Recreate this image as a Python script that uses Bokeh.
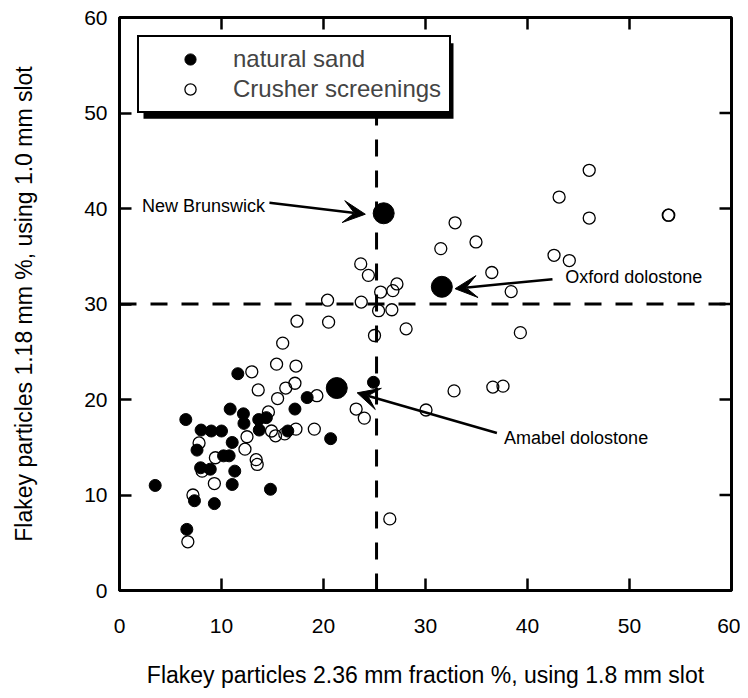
from bokeh.plotting import figure
from bokeh.models import (Range1d, FixedTicker, Legend, LegendItem,
                          Label, Arrow, VeeHead, Span, BoxAnnotation)
from bokeh.embed import file_html
from bokeh.resources import INLINE

FONT = "Liberation Sans"

# ---- data ----
sand_x = [3.5, 6.5, 6.6, 7.35, 7.6, 7.95, 8.0, 8.9, 9.0, 9.3, 10.0, 10.2, 10.75, 10.85,
          11.05, 11.05, 11.3, 11.6, 12.15, 12.2, 13.65, 14.4, 13.7, 14.8, 16.5, 17.2,
          18.4, 20.7, 24.9]
sand_y = [11.0, 17.9, 6.4, 9.4, 14.7, 12.85, 16.8, 12.7, 16.7, 9.1, 16.7, 14.1, 14.1, 19.0,
          15.5, 11.1, 12.5, 22.7, 18.5, 17.5, 17.9, 18.1, 16.8, 10.6, 16.7, 19.0,
          20.2, 15.9, 21.8]

crush_x = [6.7, 7.2, 7.8, 8.1, 9.3, 9.4, 12.3, 12.5, 13.4, 13.5, 12.97, 13.6, 14.6, 14.9,
           15.3, 16.2, 15.4, 15.5, 16.0, 16.3, 17.2, 17.3, 17.3, 17.4, 19.1, 19.35, 20.4,
           20.5, 23.2, 24.0, 23.65, 24.4, 23.7, 25.0, 25.4, 25.6, 26.7, 26.8, 27.2, 28.1,
           26.5, 30.05, 31.5, 32.8, 32.9, 34.95, 36.5, 36.6, 37.6, 38.4, 39.3, 42.6, 43.1,
           44.1, 46.05, 46.05, 53.8, 53.85]
crush_y = [5.1, 10.0, 15.45, 12.5, 11.2, 13.9, 14.8, 16.1, 13.7, 13.2, 22.9, 21.0, 18.7, 16.7,
           16.2, 16.4, 23.7, 20.1, 25.9, 21.2, 21.7, 23.5, 16.9, 28.2, 16.9, 20.4, 30.4,
           28.1, 19.0, 18.05, 34.2, 33.0, 30.2, 26.7, 29.3, 31.25, 29.4, 31.4, 32.1, 27.4,
           7.5, 18.9, 35.8, 20.9, 38.5, 36.5, 33.3, 21.3, 21.4, 31.3, 27.0, 35.1, 41.2,
           34.55, 44.0, 39.0, 39.3, 39.3]

site_names = ["New Brunswick", "Oxford dolostone", "Amabel dolostone"]
site_x = [25.9, 31.6, 21.3]
site_y = [39.5, 31.8, 21.2]

x_ticks = [0, 10, 20, 30, 40, 50, 60]
y_ticks = [0, 10, 20, 30, 40, 50, 60]

x_limit = 25.2
x_limit_top = 50
y_limit = 30

# ---- figure ----
W, H = 740, 690
BL, BR, BT, BB = 119, 9, 17, 96
p = figure(width=W, height=H, x_range=Range1d(0, 60), y_range=Range1d(0, 60),
           output_backend="svg", toolbar_location=None,
           min_border_left=BL, min_border_right=BR, min_border_top=BT, min_border_bottom=BB)
p.xgrid.visible = False
p.ygrid.visible = False
p.outline_line_color = "black"
p.outline_line_width = 3
p.background_fill_color = "white"
p.border_fill_color = "white"

fw = W - BL - BR
fh = H - BT - BB
px2x = 60.0 / fw
px2y = 60.0 / fh
TICK = 12

xa = p.xaxis[0]
ya = p.yaxis[0]
for ax, ticks in ((xa, x_ticks), (ya, y_ticks)):
    ax.ticker = FixedTicker(ticks=ticks)
    ax.axis_line_width = 3
    ax.axis_line_color = "black"
    ax.major_tick_line_width = 2.5
    ax.major_tick_line_color = "black"
    ax.major_tick_in = TICK
    ax.major_tick_out = 0
    ax.minor_tick_line_color = None
    ax.major_label_text_font = FONT
    ax.major_label_text_font_size = "21px"
    ax.major_label_text_color = "black"
    ax.axis_label_text_font = FONT
    ax.axis_label_text_font_size = "23px"
    ax.axis_label_text_font_style = "normal"
    ax.axis_label_text_color = "black"
xa.axis_label = "Flakey particles 2.36 mm fraction %, using 1.8 mm slot"
ya.axis_label = "Flakey particles 1.18 mm %, using 1.0 mm slot"
xa.major_label_standoff = 28
xa.axis_label_standoff = 26
ya.major_label_standoff = 12
ya.axis_label_standoff = 44

# inward ticks on the top and right edges of the frame
p.segment(x0=x_ticks, y0=[60] * len(x_ticks), x1=x_ticks,
          y1=[60 - TICK * px2y] * len(x_ticks), line_color="black", line_width=2.5)
p.segment(x0=[60] * len(y_ticks), y0=y_ticks, x1=[60 - TICK * px2x] * len(y_ticks),
          y1=y_ticks, line_color="black", line_width=2.5)

# reference dashed lines
p.segment(x0=[x_limit], y0=[0], x1=[x_limit], y1=[x_limit_top],
          line_color="black", line_width=3, line_dash="17 14")
p.add_layout(Span(location=y_limit, dimension="width", line_color="black",
                  line_width=3, line_dash="17 14"))

# points
r_crush = p.scatter(crush_x, crush_y, size=12, marker="circle",
                    fill_color=None, line_color="black", line_width=1.3)
r_sand = p.scatter(sand_x, sand_y, size=12, marker="circle",
                   fill_color="black", line_color="black")
p.scatter(site_x, site_y, size=21, marker="circle", fill_color="black", line_color="black")

# annotations
ann = [
    # text x, text y, tail x, tail y, tip x, tip y
    (2.2, 40.3, 14.7, 40.6, 24.1, 39.4),
    (43.7, 32.8, 42.45, 32.6, 32.9, 31.6),
    (37.7, 16.0, 37.0, 16.5, 23.3, 20.7),
]
for name, (tx, ty, sx, sy, ex, ey) in zip(site_names, ann):
    p.add_layout(Arrow(end=VeeHead(size=22, fill_color="black", line_color="black", line_width=1),
                       x_start=sx, y_start=sy, x_end=ex, y_end=ey,
                       line_color="black", line_width=2.5))
    p.add_layout(Label(x=tx, y=ty, text=name, text_font=FONT, text_font_size="18px",
                       text_align="left", text_baseline="middle", text_color="black"))

# legend with drop shadow
LM, LW, LH, SH_X, SH_Y = 18, 310, 76, 6, 8
p.add_layout(BoxAnnotation(left=(LM + SH_X) * px2x, right=(LM + LW + SH_X) * px2x,
                           top=60 - (LM + SH_Y) * px2y, bottom=60 - (LM + LH + SH_Y) * px2y,
                           fill_color="black", fill_alpha=1, line_color=None))

legend = Legend(items=[LegendItem(label="natural sand", renderers=[r_sand]),
                       LegendItem(label="Crusher screenings", renderers=[r_crush])],
                location="top_left", margin=LM, padding=8, glyph_width=86, glyph_height=28,
                label_height=28, label_standoff=0, spacing=2,
                label_text_font=FONT, label_text_font_size="24px",
                border_line_color="black", border_line_width=2, border_line_alpha=1,
                background_fill_color="white", background_fill_alpha=1)
p.add_layout(legend, "center")

open("out.html", "w").write(file_html(p, INLINE))
